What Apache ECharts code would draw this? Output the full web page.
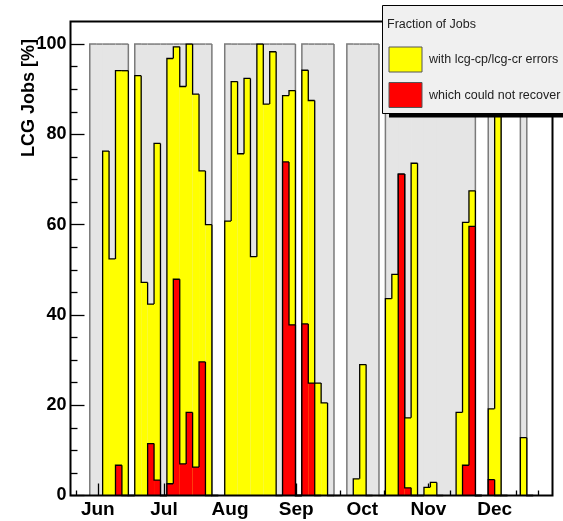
<!DOCTYPE html>
<html><head><meta charset="utf-8">
<script src="https://cdn.jsdelivr.net/npm/echarts@6/dist/echarts.min.js"></script>
<style>html,body{margin:0;padding:0;background:#fff}#c{width:563px;height:521px}</style>
</head><body><div id="c"></div>
<script>
// ---- data (x in 3-day bins, 75 bins) ----
const months = ['Jun','Jul','Aug','Sep','Oct','Nov','Dec'];
const monthPos = [4.25, 14.54, 24.83, 35.12, 45.41, 55.70, 65.99];
const minorXPos = [0.82, 7.68, 11.11, 17.97, 21.40, 28.26, 31.69, 38.55, 41.98, 48.84, 52.27, 59.13, 62.56, 69.42, 72.85];
const yMajor = [0, 20, 40, 60, 80, 100];
const yMinor = [5, 10, 15, 25, 30, 35, 45, 50, 55, 65, 70, 75, 85, 90, 95];

const greyBox = [
  0, 0, 0, 100, 100, 100, 100, 100, 100, 0,
  100, 100, 100, 100, 100, 100, 100, 100, 100, 100,
  100, 100, 0, 0, 100, 100, 100, 100, 100, 100,
  100, 100, 100, 100, 100, 0, 100, 100, 100, 100,
  100, 0, 0, 100, 100, 100, 100, 100, 0, 100,
  100, 100, 100, 100, 100, 100, 100, 100, 100, 100,
  100, 100, 100, 0, 0, 100, 100, 0, 0, 0,
  100, 0, 0, 0, 0
];
const yellowErr = [
  0, 0, 0, 0, 0, 76.3, 52.4, 94.1, 94.1, 0,
  93.0, 47.2, 42.4, 78.0, 0, 96.8, 99.4, 90.6, 100, 88.9,
  71.9, 60.0, 0, 0, 60.8, 91.7, 75.7, 92.4, 52.9, 100,
  86.7, 98.3, 0, 88.6, 89.7, 0, 94.2, 87.5, 24.9, 20.5,
  0, 0, 0, 0, 3.7, 29.0, 0, 0, 0, 43.6,
  49.0, 71.2, 17.2, 73.6, 0, 1.8, 2.9, 0, 0, 0,
  18.4, 60.5, 67.5, 0, 0, 19.2, 95, 0, 0, 0,
  12.8, 0, 0, 0, 0
];
const redFail = [
  0, 0, 0, 0, 0, 0, 0, 6.7, 0, 0,
  0, 0, 11.5, 3.4, 0, 2.6, 47.9, 7.0, 18.4, 6.3,
  29.6, 0, 0, 0, 0, 0, 0, 0, 0, 0,
  0, 0, 0, 73.9, 37.8, 0, 38.0, 24.9, 0, 0,
  0, 0, 0, 0, 0, 0, 0, 0, 0, 0,
  0, 71.2, 1.7, 0, 0, 0, 0, 0, 0, 0,
  0, 6.7, 59.6, 0, 0, 3.5, 0, 0, 0, 0,
  0, 0, 0, 0, 0
];
const yTitle = 'LCG Jobs [%]';
const legendTitle = 'Fraction of Jobs';
const legendItems = ['with lcg-cp/lcg-cr errors', 'which could not recover'];

// ---- layout ----
const G = { left: 70.5, right: 10.5, top: 21.5, bottom: 25.5 };
const W = 563, H = 521;
const FONT = '"Liberation Sans", Arial, Helvetica, sans-serif';

function hist(name, values, fill, stroke, lw, z) {
  return {
    name: name, type: 'custom', xAxisIndex: 0, yAxisIndex: 0, z: z, silent: true,
    data: values.map((v, i) => [i, v]),
    encode: { x: 0, y: 1 },
    renderItem: function (params, api) {
      const i = api.value(0), v = api.value(1);
      const prev = i > 0 ? values[i - 1] : 0;
      const next = i < values.length - 1 ? values[i + 1] : 0;
      const last = i === values.length - 1;
      if (v === 0 && prev === 0) return null;
      const a = api.coord([i, 0]);
      const b = api.coord([i + 1, v]);
      const p = api.coord([i, prev]);
      const children = [];
      // extend fill slightly into the next bin when it is also filled, to avoid seams
      const ext = next >= v && next > 0 ? 0.8 : 0;
      if (v > 0) children.push({ type: 'rect', shape: { x: a[0], y: b[1], width: b[0] - a[0] + ext, height: a[1] - b[1] }, style: { fill: fill } });
      const pts = [[a[0], p[1]], [a[0], b[1]], [b[0], b[1]]];
      if (last && v > 0) pts.push([b[0], a[1]]);
      children.push({ type: 'polyline', shape: { points: pts }, style: { stroke: stroke, lineWidth: lw, fill: null } });
      return { type: 'group', children: children };
    }
  };
}

function nearestMonth(v) {
  let best = 0, bd = 1e9;
  monthPos.forEach((p, k) => { const d = Math.abs(p - v); if (d < bd) { bd = d; best = k; } });
  return months[best];
}

const chart = echarts.init(document.getElementById('c'), null, { renderer: 'canvas' });
const plotW = W - G.left - G.right, plotH = H - G.top - G.bottom;

chart.setOption({
  animation: false,
  backgroundColor: '#ffffff',
  grid: { left: G.left, right: G.right, top: G.top, bottom: G.bottom, show: false },
  xAxis: [
    { type: 'value', position: 'bottom', min: 0, max: 75, z: 2,
      axisLine: { show: false }, splitLine: { show: false },
      axisTick: { show: true, inside: true, length: 12, customValues: monthPos, lineStyle: { color: '#000', width: 1.3 } },
      axisLabel: { customValues: monthPos, formatter: nearestMonth, margin: 5, fontSize: 19, fontWeight: 'bold', color: '#000', fontFamily: FONT } },
    { type: 'value', position: 'bottom', min: 0, max: 75, z: 2,
      axisLine: { show: false }, splitLine: { show: false }, axisLabel: { show: false },
      axisTick: { show: true, inside: true, length: 5, customValues: minorXPos, lineStyle: { color: '#000', width: 1.3 } } }
  ],
  yAxis: [
    { type: 'value', position: 'left', min: 0, max: 105, z: 2,
      axisLine: { show: false }, splitLine: { show: false },
      axisTick: { show: true, inside: true, length: 14, customValues: yMajor, lineStyle: { color: '#000', width: 1.3 } },
      axisLabel: { customValues: yMajor, margin: 4, fontSize: 18, fontWeight: 'bold', color: '#000', fontFamily: FONT } },
    { type: 'value', position: 'left', min: 0, max: 105, z: 2,
      axisLine: { show: false }, splitLine: { show: false }, axisLabel: { show: false },
      axisTick: { show: true, inside: true, length: 7, customValues: yMinor, lineStyle: { color: '#000', width: 1.3 } } }
  ],
  series: [
    hist('grey', greyBox, '#e5e5e5', '#7a7a7a', 1.5, 1),
    hist(legendItems[0], yellowErr, '#ffff00', '#000000', 1.3, 3),
    hist(legendItems[1], redFail, '#ff0000', '#000000', 1.3, 4)
  ],
  graphic: [
    { type: 'rect', z: 20, silent: true, shape: { x: G.left, y: G.top, width: plotW, height: plotH }, style: { fill: null, stroke: '#000', lineWidth: 2 } },
    { type: 'text', z: 20, x: 29, y: 98, rotation: Math.PI / 2, style: { text: yTitle, font: 'bold 18px ' + FONT, fill: '#000', textAlign: 'center', textVerticalAlign: 'middle' } },
    // legend
    { type: 'rect', z: 30, shape: { x: 389, y: 113, width: 180, height: 4.5 }, style: { fill: '#000' } },
    { type: 'rect', z: 31, shape: { x: 382.5, y: 5.5, width: 190, height: 108 }, style: { fill: '#f0f0f0', stroke: '#000', lineWidth: 1 } },
    { type: 'text', z: 32, x: 387, y: 25, style: { text: legendTitle, font: '12.5px ' + FONT, fill: '#222', textAlign: 'left', textVerticalAlign: 'middle' } },
    { type: 'rect', z: 32, shape: { x: 389, y: 47, width: 33, height: 25 }, style: { fill: '#ffff00', stroke: '#555', lineWidth: 1 } },
    { type: 'text', z: 32, x: 429, y: 59.5, style: { text: legendItems[0], font: '12.5px ' + FONT, fill: '#222', textAlign: 'left', textVerticalAlign: 'middle' } },
    { type: 'rect', z: 32, shape: { x: 389, y: 82.5, width: 33, height: 25 }, style: { fill: '#ff0000', stroke: '#555', lineWidth: 1 } },
    { type: 'text', z: 32, x: 429, y: 95.5, style: { text: legendItems[1], font: '12.5px ' + FONT, fill: '#222', textAlign: 'left', textVerticalAlign: 'middle' } }
  ]
});
</script>
</body></html>
